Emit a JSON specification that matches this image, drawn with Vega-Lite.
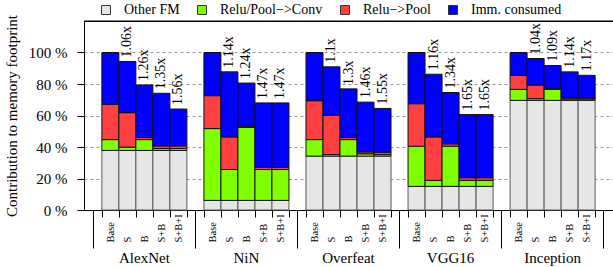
{
  "$schema": "https://vega.github.io/schema/vega-lite/v6.json",
  "width": 529,
  "height": 189,
  "autosize": {"type": "none"},
  "padding": {"left": 84, "top": 21, "right": 0, "bottom": 57},
  "config": {
    "font": "Liberation Serif",
    "view": {"stroke": "black", "strokeWidth": 1},
    "axis": {"labelFont": "Liberation Serif", "titleFont": "Liberation Serif", "labelColor": "black", "titleColor": "black", "domainColor": "black", "tickColor": "black", "domainWidth": 1, "tickWidth": 1}
  },
  "data": {
    "values": [
      {"key": "AlexNet|Base", "other": 37.8, "rpc": 6.9, "rp": 22.4, "imm": 32.9, "sp": ""},
      {"key": "AlexNet|S", "other": 37.8, "rpc": 2.1, "rp": 21.9, "imm": 32.5, "sp": "1.06x"},
      {"key": "AlexNet|B", "other": 37.8, "rpc": 6.9, "rp": 1.3, "imm": 33.4, "sp": "1.26x"},
      {"key": "AlexNet|S+B", "other": 37.8, "rpc": 1.2, "rp": 1.7, "imm": 33.4, "sp": "1.35x"},
      {"key": "AlexNet|S+B+I", "other": 37.8, "rpc": 1.2, "rp": 1.7, "imm": 23.4, "sp": "1.56x"},
      {"key": "NiN|Base", "other": 6.1, "rpc": 45.6, "rp": 20.9, "imm": 27.4, "sp": ""},
      {"key": "NiN|S", "other": 6.1, "rpc": 19.6, "rp": 20.7, "imm": 41.3, "sp": "1.14x"},
      {"key": "NiN|B", "other": 6.1, "rpc": 46.4, "rp": 0.7, "imm": 27.4, "sp": "1.24x"},
      {"key": "NiN|S+B", "other": 6.1, "rpc": 19.6, "rp": 1.3, "imm": 41.0, "sp": "1.47x"},
      {"key": "NiN|S+B+I", "other": 6.1, "rpc": 19.6, "rp": 1.3, "imm": 41.0, "sp": "1.47x"},
      {"key": "Overfeat|Base", "other": 34.2, "rpc": 10.5, "rp": 24.7, "imm": 30.6, "sp": ""},
      {"key": "Overfeat|S", "other": 34.2, "rpc": 1.0, "rp": 24.9, "imm": 30.8, "sp": "1.1x"},
      {"key": "Overfeat|B", "other": 34.2, "rpc": 10.5, "rp": 1.3, "imm": 30.9, "sp": "1.3x"},
      {"key": "Overfeat|S+B", "other": 34.2, "rpc": 1.5, "rp": 1.2, "imm": 31.6, "sp": "1.46x"},
      {"key": "Overfeat|S+B+I", "other": 34.2, "rpc": 1.0, "rp": 1.5, "imm": 27.8, "sp": "1.55x"},
      {"key": "VGG16|Base", "other": 15.0, "rpc": 25.5, "rp": 27.0, "imm": 32.5, "sp": ""},
      {"key": "VGG16|S", "other": 15.0, "rpc": 3.8, "rp": 27.6, "imm": 39.8, "sp": "1.16x"},
      {"key": "VGG16|B", "other": 15.0, "rpc": 25.5, "rp": 1.5, "imm": 32.6, "sp": "1.34x"},
      {"key": "VGG16|S+B", "other": 15.0, "rpc": 3.8, "rp": 1.7, "imm": 40.1, "sp": "1.65x"},
      {"key": "VGG16|S+B+I", "other": 15.0, "rpc": 3.8, "rp": 1.7, "imm": 40.1, "sp": "1.65x"},
      {"key": "Inception|Base", "other": 69.6, "rpc": 7.0, "rp": 8.8, "imm": 14.6, "sp": ""},
      {"key": "Inception|S", "other": 69.6, "rpc": 1.1, "rp": 8.6, "imm": 16.9, "sp": "1.04x"},
      {"key": "Inception|B", "other": 69.6, "rpc": 7.0, "rp": 0.4, "imm": 14.7, "sp": "1.09x"},
      {"key": "Inception|S+B", "other": 69.6, "rpc": 0.9, "rp": 0.6, "imm": 16.6, "sp": "1.14x"},
      {"key": "Inception|S+B+I", "other": 69.6, "rpc": 0.9, "rp": 0.6, "imm": 14.4, "sp": "1.17x"}
    ]
  },
  "transform": [
    {"fold": ["other", "rpc", "rp", "imm"], "as": ["cat", "v"]},
    {"window": [{"op": "row_number", "as": "ord"}], "groupby": ["key"]}
  ],
  "layer": [
    {
      "mark": {"type": "bar", "strokeWidth": 1},
      "encoding": {
        "x": {
          "field": "key",
          "type": "nominal",
          "sort": null,
          "scale": {
            "domain": ["L",
              "AlexNet|Base", "AlexNet|S", "AlexNet|B", "AlexNet|S+B", "AlexNet|S+B+I", "G1",
              "NiN|Base", "NiN|S", "NiN|B", "NiN|S+B", "NiN|S+B+I", "G2",
              "Overfeat|Base", "Overfeat|S", "Overfeat|B", "Overfeat|S+B", "Overfeat|S+B+I", "G3",
              "VGG16|Base", "VGG16|S", "VGG16|B", "VGG16|S+B", "VGG16|S+B+I", "G4",
              "Inception|Base", "Inception|S", "Inception|B", "Inception|S+B", "Inception|S+B+I", "T"],
            "paddingInner": 0,
            "paddingOuter": 0.05
          },
          "axis": {
            "orient": "bottom",
            "title": null,
            "tickSize": 7,
            "tickOffset": -8.5,
            "labelOffset": 8.5,
            "tickOpacity": {"condition": {"test": "datum.value === 'L'", "value": 0}, "value": 1},
            "labelAngle": 270,
            "labelAlign": "left",
            "labelBaseline": "middle",
            "labelFontSize": 10.5,
            "labelPadding": 25,
            "labelExpr": "indexof(datum.value, '|') > 0 ? split(datum.value, '|')[1] : ''",
            "labelOverlap": false,
            "labelBound": false,
            "grid": false
          }
        },
        "y": {
          "field": "v",
          "type": "quantitative",
          "stack": "zero",
          "scale": {"domain": [0, 120], "nice": false},
          "axis": {
            "title": "Contribution to memory footprint",
            "titleFontSize": 15,
            "titleFontWeight": "normal",
            "titlePadding": 9,
            "values": [0, 20, 40, 60, 80, 100],
            "tickCount": 12,
            "labelExpr": "datum.value + ' %'",
            "labelFontSize": 15,
            "labelPadding": 10,
            "labelOverlap": false,
            "tickSize": 7,
            "grid": true,
            "gridDash": [3, 3],
            "gridColor": "#999999",
            "gridWidth": 1
          }
        },
        "fill": {
          "field": "cat",
          "type": "nominal",
          "scale": {"domain": ["other", "rpc", "rp", "imm"], "range": ["#e6e6e6", "#80ff00", "#ff4040", "#0000ff"]},
          "legend": {
            "orient": "none",
            "legendX": 15,
            "legendY": -18,
            "direction": "horizontal",
            "title": null,
            "symbolType": "square",
            "symbolSize": 81,
            "symbolStrokeColor": "#333333",
            "symbolStrokeWidth": 1,
            "symbolOpacity": 1,
            "labelFont": "Liberation Serif",
            "labelFontSize": 14,
            "labelColor": "black",
            "labelOffset": 11,
            "columnPadding": 15,
            "padding": 0,
            "labelExpr": "datum.value == 'other' ? 'Other FM' : datum.value == 'rpc' ? 'Relu/Pool\u2212>Conv' : datum.value == 'rp' ? 'Relu\u2212>Pool' : 'Imm. consumed'"
          }
        },
        "stroke": {"condition": {"test": "datum.cat === 'other'", "value": "#5a5a5a"}, "value": "#111111"},
        "order": {"field": "ord", "type": "quantitative", "sort": "ascending"}
      }
    },
    {
      "transform": [
        {"filter": "datum.sp != ''"},
        {"aggregate": [{"op": "sum", "field": "v", "as": "total"}], "groupby": ["key", "sp"]}
      ],
      "mark": {"type": "text", "angle": 270, "align": "left", "baseline": "middle", "dx": 4, "fontSize": 14, "font": "Liberation Serif", "color": "black"},
      "encoding": {
        "x": {
          "field": "key",
          "type": "nominal",
          "sort": null,
          "scale": {
            "domain": ["L",
              "AlexNet|Base", "AlexNet|S", "AlexNet|B", "AlexNet|S+B", "AlexNet|S+B+I", "G1",
              "NiN|Base", "NiN|S", "NiN|B", "NiN|S+B", "NiN|S+B+I", "G2",
              "Overfeat|Base", "Overfeat|S", "Overfeat|B", "Overfeat|S+B", "Overfeat|S+B+I", "G3",
              "VGG16|Base", "VGG16|S", "VGG16|B", "VGG16|S+B", "VGG16|S+B+I", "G4",
              "Inception|Base", "Inception|S", "Inception|B", "Inception|S+B", "Inception|S+B+I", "T"],
            "paddingInner": 0,
            "paddingOuter": 0.05
          },
          "axis": {
            "orient": "bottom",
            "title": null,
            "values": ["L", "G1", "G2", "G3", "G4", "T", "AlexNet|B", "NiN|B", "Overfeat|B", "VGG16|B", "Inception|B"],
            "tickSize": 38,
            "tickOpacity": {"condition": {"test": "indexof(datum.value, '|') > 0", "value": 0}, "value": 1},
            "labelExpr": "indexof(datum.value, '|') > 0 ? split(datum.value, '|')[0] : ''",
            "labelFontSize": 15,
            "labelPadding": 2,
            "labelAngle": 0,
            "labelAlign": "center",
            "labelBaseline": "top",
            "labelOverlap": false,
            "labelBound": false,
            "domain": false,
            "grid": false
          }
        },
        "y": {"field": "total", "type": "quantitative", "scale": {"domain": [0, 120], "nice": false}},
        "text": {"field": "sp"}
      }
    },
    {
      "data": {"values": [{}]},
      "mark": {"type": "rule", "color": "black", "strokeWidth": 1},
      "encoding": {
        "y": {"datum": 120, "type": "quantitative", "scale": {"domain": [0, 120], "nice": false}}
      }
    }
  ],
  "resolve": {"axis": {"x": "independent"}}
}
